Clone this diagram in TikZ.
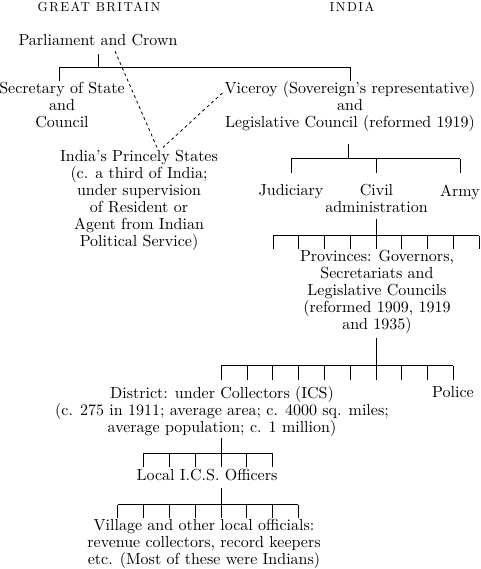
\documentclass[tikz,border=0pt]{standalone}
\usepackage{fontspec}
\newfontfamily\txtfont{lmroman10-regular.otf}[Ligatures=TeX]
\newfontfamily\headfont{lmroman10-regular.otf}[LetterSpace=11]

\begin{document}
\begin{tikzpicture}[x=1pt, y=1pt, node distance=10pt, line width=0.8pt, lbl/.style={align=center, inner sep=2pt, font=\txtfont\fontsize{16}{17}\selectfont}, head/.style={inner sep=2pt, font=\headfont\fontsize{13}{15}\selectfont}, link/.style={dash pattern=on 3pt off 3pt}]
	\useasboundingbox (0,0) rectangle (480,-569);

	% nodes
	\node[head] (gbhead) at (99,-6.5) {GREAT BRITAIN};
	\node[head, right of=gbhead, xshift=243pt] (indhead) {INDIA};
	\node[lbl, below of=gbhead, xshift=-1pt, yshift=-23.5pt] (parl) {Parliament and Crown}; %
	\node[lbl, below of=parl, xshift=-36pt, yshift=-55pt] (secst) {Secretary of State\\and\\Council}; %
	\node[lbl, below of=parl, xshift=252pt, yshift=-57pt] (viceroy) {Viceroy (Sovereign’s representative)\\and\\Legislative Council (reformed 1919)}; %
	\node[lbl, below of=secst, xshift=77pt, yshift=-85pt] (princst) {India’s Princely States\\(c. a third of India;\\under supervision\\of Resident or\\Agent from Indian\\Political Service)}; %
	\node[lbl, below of=viceroy, xshift=-59pt, yshift=-75pt] (judic) {Judiciary}; %
	\node[lbl, below of=viceroy, xshift=26.5pt, yshift=-81.5pt] (civadm) {Civil\\administration}; %
	\node[lbl, below of=viceroy, xshift=110pt, yshift=-75pt] (army) {Army}; %
	\node[lbl, below of=civadm, xshift=0.5pt, yshift=-83.5pt] (prov) {Provinces: Governors,\\Secretariats and\\Legislative Councils\\(reformed 1909, 1919\\and 1935)}; %
	\node[lbl, below of=prov, xshift=-155pt, yshift=-109pt] (distr) {District: under Collectors (ICS)\\(c. 275 in 1911; average area; c. 4000 sq. miles;\\average population; c. 1 million)}; %
	\node[lbl, below of=prov, xshift=76pt, yshift=-90pt] (police) {Police}; %
	\node[lbl, below of=distr, xshift=-15pt, yshift=-54pt] (localics) {Local I.C.S. Officers}; %
	\node[lbl, below of=localics, xshift=-3pt, yshift=-59pt] (village) {Village and other local officials:\\revenue collectors, record keepers\\etc. (Most of these were Indians)}; %

	% edges
	\draw (parl.south) ++(0,-6) -- ++(0,-13) coordinate (parlbar);
	\draw ([xshift=-3pt]parlbar -| secst) -- (parlbar -| viceroy);
	\draw ([xshift=-3pt]parlbar -| secst) -- ++(0,-14);
	\draw (parlbar -| viceroy) -- ++(0,-14);

	\draw (viceroy.south) ++(-2,-10) -- ++(0,-14.5) coordinate (vicbar);
	\draw (vicbar -| judic) -- (vicbar -| army);
	\foreach \n in {judic, civadm, army} \draw (vicbar -| \n) -- ++(0,-14);

	\draw (civadm.south) ++(-0.5,-3.5) -- ++(0,-17) coordinate (civbar);
	\draw ([xshift=-103pt]civbar) -- ([xshift=103pt]civbar);
	\foreach \k in {-4,...,4} \draw ([xshift=\k*25.75pt]civbar) -- ++(0,-13);

	\draw (prov.south) ++(-1,-1.5) -- ++(0,-28) coordinate (provbar);
	\draw ([xshift=-154.8pt]provbar) -- ([xshift=77.4pt]provbar);
	\foreach \k in {-6,...,3} \draw ([xshift=\k*25.8pt]provbar) -- ++(0,-14);

	\draw (distr.south) ++(-1,0) -- ++(0,-15) coordinate (distbar);
	\draw ([xshift=-77.4pt]distbar) -- ([xshift=51.6pt]distbar);
	\foreach \k in {-3,...,2} \draw ([xshift=\k*25.8pt]distbar) -- ++(0,-14);

	\draw (localics.south) ++(14,-4.5) -- ++(0,-17) coordinate (locbar);
	\draw ([xshift=-103.2pt]locbar) -- ([xshift=77.4pt]locbar);
	\foreach \k in {-4,...,3} \draw ([xshift=\k*25.8pt]locbar) -- ++(0,-13);

	% princely states
	\draw[link] ([xshift=17pt,yshift=-3pt]parl.south) -- ([xshift=18pt]princst.north);
	\draw[link] ([yshift=14pt]viceroy.west) -- ([xshift=24pt]princst.north);
\end{tikzpicture}
\end{document}
